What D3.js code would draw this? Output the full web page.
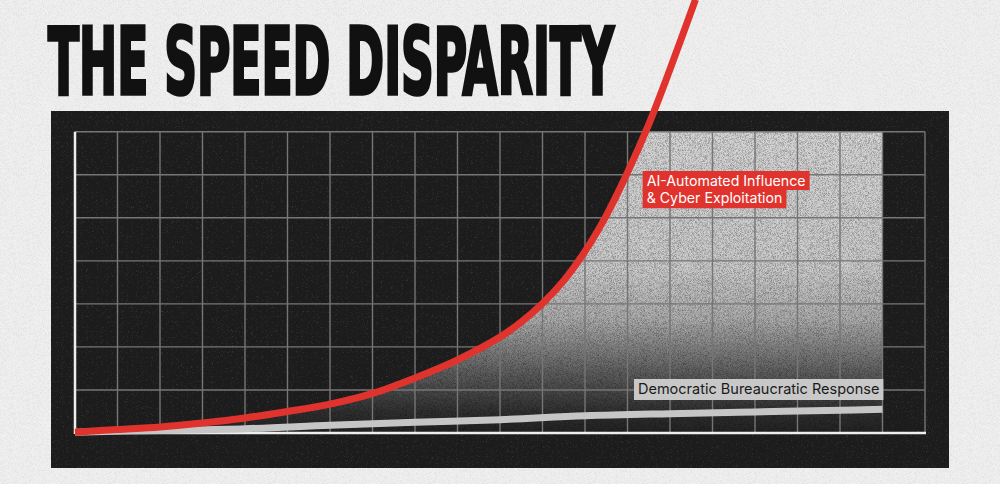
<!DOCTYPE html>
<html>
<head>
<meta charset="utf-8">
<script src="https://cdn.jsdelivr.net/npm/d3@7"></script>
<style>
  html, body { margin: 0; padding: 0; background: #efefef; }
  svg { display: block; }
</style>
</head>
<body>
<div id="chart"></div>
<script>
const width = 1000;
const height = 484;

// grid: 20 columns x 7 rows
const gridCols = d3.range(0, 21);
const gridRows = d3.range(0, 8);

// red series: AI-automated influence (grid units)
const threatX = [0, 1, 2, 3, 4, 5, 6, 7, 8, 9, 10, 10.5, 11, 11.5, 12, 12.5, 13, 13.5, 14, 14.6];
const threatY = [0.02, 0.08, 0.14, 0.23, 0.35, 0.5, 0.67, 0.92, 1.28, 1.7, 2.23, 2.58, 3.01, 3.54, 4.22, 5.05, 6.05, 7.17, 8.45, 10.07];

// gray series: democratic response
const responseX = [0, 2, 4, 6, 8, 10, 12, 14, 16, 18, 19];
const responseY = [0.02, 0.06, 0.1, 0.18, 0.25, 0.31, 0.4, 0.45, 0.49, 0.53, 0.55];

const threatLabel = ["AI-Automated Influence", "& Cyber Exploitation"];
const responseLabel = "Democratic Bureaucratic Response";
const title = "THE SPEED DISPARITY";

const threat = threatX.map((d, i) => ({x: d, y: threatY[i]}));
const response = responseX.map((d, i) => ({x: d, y: responseY[i]}));

const x = d3.scaleLinear().domain([0, 20]).range([75, 925]);
const y = d3.scaleLinear().domain([0, 7]).range([433, 131.7]);

const svg = d3.select("#chart").append("svg")
    .attr("width", width)
    .attr("height", height)
    .attr("viewBox", [0, 0, width, height]);

const defs = svg.append("defs");

// grain filters
function makeGrain(id, freq, seed, white, cut) {
  const f = defs.append("filter").attr("id", id)
      .attr("x", 0).attr("y", 0).attr("width", 1).attr("height", 1);
  f.append("feTurbulence").attr("type", "fractalNoise")
      .attr("baseFrequency", freq).attr("numOctaves", 1).attr("seed", seed).attr("result", "n");
  const c = white ? 1 : 0;
  f.append("feColorMatrix").attr("in", "n").attr("type", "matrix")
      .attr("values", `0 0 0 0 ${c}  0 0 0 0 ${c}  0 0 0 0 ${c}  3 0 0 0 ${cut}`)
      .attr("result", "a");
  f.append("feComposite").attr("in", "a").attr("in2", "SourceGraphic").attr("operator", "in");
}
makeGrain("grain", 1.6, 4, false, -1.2);
makeGrain("lightGrain", 1.8, 9, true, -1.75);

const grad = defs.append("linearGradient").attr("id", "fade")
    .attr("gradientUnits", "userSpaceOnUse")
    .attr("x1", 0).attr("y1", y(7)).attr("x2", 0).attr("y2", y(0));
[[0, "#d6d6d6"], [0.45, "#cbcbcb"], [0.62, "#adadad"], [0.8, "#5e5e5e"], [0.93, "#303030"], [1, "#232323"]]
  .forEach(([o, c]) => grad.append("stop").attr("offset", o).attr("stop-color", c));

defs.append("clipPath").attr("id", "plotClip").append("rect")
    .attr("x", x(0)).attr("y", y(7))
    .attr("width", x(19) - x(0)).attr("height", y(0) - y(7));

// page
svg.append("rect").attr("width", width).attr("height", height).attr("fill", "#f0f0f0");
svg.append("rect").attr("width", width).attr("height", height)
    .attr("fill", "#000").attr("opacity", 0.05).attr("filter", "url(#grain)");

// title, squeezed to the reference width
const titleG = svg.append("g");
const titleText = titleG.append("text")
    .attr("x", 0).attr("y", 0)
    .attr("font-family", "'Liberation Sans Narrow', 'DejaVu Sans Condensed', 'DejaVu Sans', sans-serif")
    .attr("font-weight", 700)
    .attr("font-size", 92)
    .attr("fill", "#111")
    .attr("stroke", "#111")
    .attr("stroke-width", 3.6)
    .attr("stroke-linejoin", "miter")
    .text(title);
const titleW = titleText.node().getComputedTextLength();
titleG.attr("transform", `translate(48,94) scale(${566 / titleW},1)`);

// dark panel
svg.append("rect")
    .attr("x", 51).attr("y", 111).attr("width", 898).attr("height", 357)
    .attr("fill", "#1c1c1c");
svg.append("rect")
    .attr("x", 51).attr("y", 111).attr("width", 898).attr("height", 357)
    .attr("fill", "#fff").attr("opacity", 0.18).attr("filter", "url(#lightGrain)");

// light fill under the red curve
const curve = d3.curveCatmullRom.alpha(0.5);
const fillG = svg.append("g").attr("clip-path", "url(#plotClip)");
const area = d3.area()
    .x(d => x(d.x)).y0(y(0)).y1(d => y(d.y))
    .curve(curve);
const lastX = threatX[threatX.length - 1];
function lightShape(g) {
  g.append("path").datum(threat).attr("d", area);
  g.append("rect")
      .attr("x", x(lastX) - 1).attr("y", y(7))
      .attr("width", x(19) - x(lastX) + 1).attr("height", y(0) - y(7));
}
fillG.append("g").attr("fill", "url(#fade)").call(lightShape);
fillG.append("g").attr("fill", "#000").attr("opacity", 0.3)
    .attr("filter", "url(#grain)").call(lightShape);

// grid
const grid = svg.append("g").attr("stroke", "#767676").attr("stroke-width", 1.4);
grid.selectAll(".v").data(gridCols.slice(1)).enter().append("line")
    .attr("x1", d => x(d)).attr("x2", d => x(d))
    .attr("y1", y(7)).attr("y2", y(0));
grid.selectAll(".h").data(gridRows.slice(1)).enter().append("line")
    .attr("x1", x(0)).attr("x2", x(20))
    .attr("y1", d => y(d)).attr("y2", d => y(d));

// axes
svg.append("line")
    .attr("x1", x(0)).attr("x2", x(0)).attr("y1", y(7)).attr("y2", y(0) + 1)
    .attr("stroke", "#eeeeee").attr("stroke-width", 2.5);
svg.append("line")
    .attr("x1", x(0)).attr("x2", x(20) + 1).attr("y1", y(0)).attr("y2", y(0))
    .attr("stroke", "#eeeeee").attr("stroke-width", 2.5);

const line = d3.line().x(d => x(d.x)).y(d => y(d.y)).curve(curve);

// response line
svg.append("path").datum(response)
    .attr("d", line)
    .attr("fill", "none")
    .attr("stroke", "#c6c6c6")
    .attr("stroke-width", 7);

// threat line
svg.append("path").datum(threat)
    .attr("d", line)
    .attr("fill", "none")
    .attr("stroke", "#e1332d")
    .attr("stroke-width", 7);

// labels
const labelFont = "Inter, 'Open Sans', 'Liberation Sans', sans-serif";

const tl = svg.append("g");
threatLabel.forEach((t, i) => {
  const tx = tl.append("text")
      .attr("x", x(13.45)).attr("y", 186 + i * 16.7)
      .attr("font-family", labelFont).attr("font-size", 14.2)
      .attr("fill", "#fff").text(t);
  const w = tx.node().getComputedTextLength();
  tl.insert("rect", "text")
      .attr("x", x(13.45) - 4).attr("y", 171 + i * 18.7)
      .attr("width", w + 8).attr("height", i === 0 ? 19 : 18.5)
      .attr("fill", "#e1332d");
});

const rl = svg.append("g");
const rt = rl.append("text")
    .attr("x", 638).attr("y", 394.3)
    .attr("font-family", labelFont).attr("font-size", 14.5)
    .attr("fill", "#1a1a1a").text(responseLabel);
const rw = rt.node().getComputedTextLength();
rl.insert("rect", "text")
    .attr("x", 634).attr("y", 379)
    .attr("width", rw + 8).attr("height", 21)
    .attr("fill", "#c8c8c8");
</script>
</body>
</html>
